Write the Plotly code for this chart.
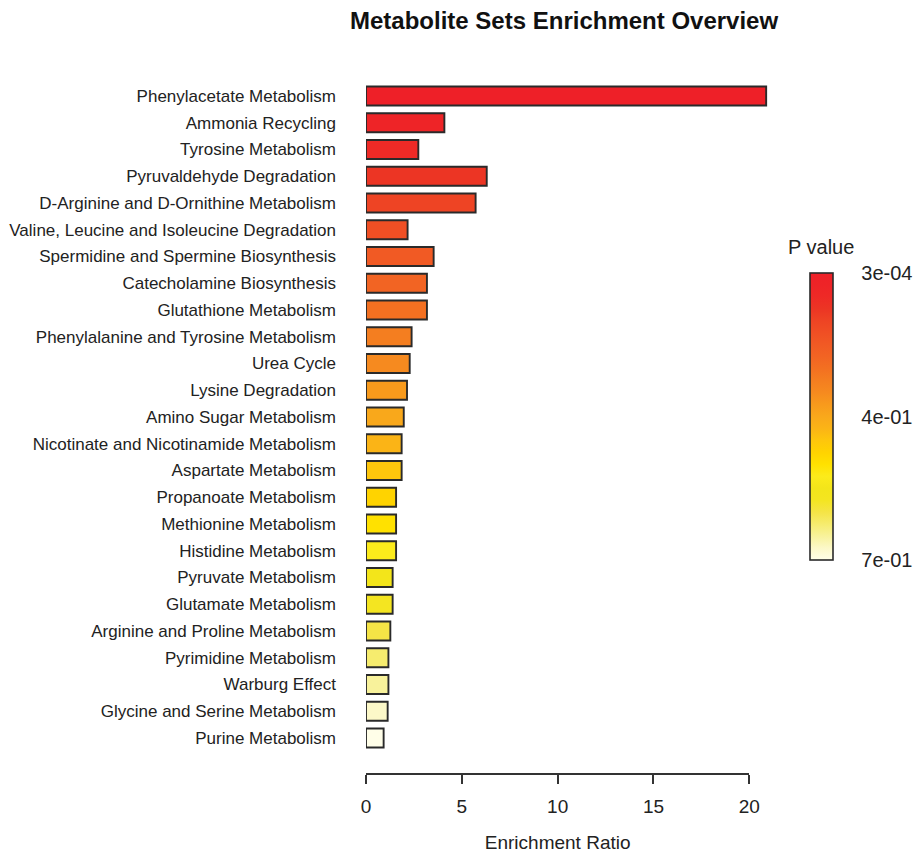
import plotly.graph_objects as go

# Metabolite sets, ordered from most to least significant
metabolite_sets = [
    "Phenylacetate Metabolism",
    "Ammonia Recycling",
    "Tyrosine Metabolism",
    "Pyruvaldehyde Degradation",
    "D-Arginine and D-Ornithine Metabolism",
    "Valine, Leucine and Isoleucine Degradation",
    "Spermidine and Spermine Biosynthesis",
    "Catecholamine Biosynthesis",
    "Glutathione Metabolism",
    "Phenylalanine and Tyrosine Metabolism",
    "Urea Cycle",
    "Lysine Degradation",
    "Amino Sugar Metabolism",
    "Nicotinate and Nicotinamide Metabolism",
    "Aspartate Metabolism",
    "Propanoate Metabolism",
    "Methionine Metabolism",
    "Histidine Metabolism",
    "Pyruvate Metabolism",
    "Glutamate Metabolism",
    "Arginine and Proline Metabolism",
    "Pyrimidine Metabolism",
    "Warburg Effect",
    "Glycine and Serine Metabolism",
    "Purine Metabolism",
]

enrichment_ratio = [
    20.88, 4.09, 2.73, 6.30, 5.72, 2.17, 3.53, 3.18, 3.18, 2.38,
    2.28, 2.14, 1.97, 1.86, 1.86, 1.57, 1.57, 1.57, 1.39, 1.39,
    1.27, 1.17, 1.17, 1.13, 0.92,
]

# Significance rank (1 = smallest p value) used for the colour scale
p_rank = list(range(1, len(metabolite_sets) + 1))

# P value legend labels (smallest, median, largest)
p_legend_text = ["3e-04", "4e-01", "7e-01"]

# Palette from least significant (cream) to most significant (red)
palette = [
    "#FFFEE8", "#FCF8C8", "#F8F29B", "#F6EC6E", "#F5E446", "#F4E521",
    "#F3E51A", "#FCEB1B", "#FFE100", "#FFD300", "#FEC60C", "#FBB416",
    "#F9A81B", "#F89A1C", "#F68A1F", "#F47E20", "#F37021", "#F26423",
    "#F15A24", "#F04F24", "#EE4424", "#EC3524", "#EE2A26", "#EE2427",
    "#EE2028",
]
n = len(palette)
colorscale = [[i / (n - 1), c] for i, c in enumerate(palette)]

n_sets = len(metabolite_sets)
color_level = [n_sets - r for r in p_rank]  # rank 1 -> highest level (red)

W, H = 918, 853
FONT = "Liberation Sans, Arial, sans-serif"

fig = go.Figure()

fig.add_trace(go.Bar(
    x=enrichment_ratio,
    y=metabolite_sets,
    orientation="h",
    width=0.71,
    marker=dict(
        color=color_level,
        colorscale=colorscale,
        cmin=0,
        cmax=n_sets - 1,
        line=dict(color="#2a2a2a", width=1.9),
        showscale=True,
        colorbar=dict(
            xref="container", yref="container",
            x=810 / W, xanchor="left",
            y=(H - 560) / H, yanchor="bottom",
            lenmode="pixels", len=287,
            thicknessmode="pixels", thickness=23,
            outlinecolor="#2a2a2a", outlinewidth=1.6,
            tickmode="array",
            tickvals=[n_sets - 1, (n_sets - 1) / 2, 0],
            ticktext=p_legend_text,
            ticks="outside", ticklen=24, tickcolor="rgba(0,0,0,0)",
            tickfont=dict(family=FONT, size=20, color="#222222"),
            bgcolor="rgba(0,0,0,0)",
            xpad=0, ypad=0,
        ),
    ),
    hoverinfo="x+y",
))

# Companion axis spanning 0-20 for the R-style bottom axis
fig.add_trace(go.Scatter(x=[], y=[], xaxis="x2", yaxis="y",
                         mode="markers", showlegend=False, hoverinfo="skip"))

x_left = 366
px_per_unit = (749.3 - 366) / 20
x_max = 21.6
y_top = 96 - 26.75 / 2
y_bot = 738 + 26.75 / 2

fig.update_layout(
    width=W, height=H,
    margin=dict(l=0, r=0, t=0, b=0, autoexpand=False),
    paper_bgcolor="white",
    plot_bgcolor="rgba(0,0,0,0)",
    showlegend=False,
    font=dict(family=FONT, color="#222222"),
    xaxis=dict(
        domain=[x_left / W, (x_left + x_max * px_per_unit) / W],
        range=[0, x_max],
        showline=False, showgrid=False, zeroline=False,
        showticklabels=False, ticks="",
    ),
    xaxis2=dict(
        domain=[x_left / W, 749.3 / W],
        range=[0, 20],
        anchor="free",
        position=(H - 774) / H,
        side="bottom",
        showline=True, linecolor="#333333", linewidth=1.5,
        showgrid=False, zeroline=False,
        ticks="outside", ticklen=9, tickwidth=1.5, tickcolor="#333333",
        tickmode="array", tickvals=[0, 5, 10, 15, 20],
        ticklabelstandoff=6,
        tickfont=dict(family=FONT, size=19, color="#222222"),
        title=dict(text="Enrichment Ratio",
                   font=dict(family=FONT, size=19, color="#222222"),
                   standoff=22),
    ),
    yaxis=dict(
        domain=[1 - y_bot / H, 1 - y_top / H],
        type="category",
        categoryorder="array",
        categoryarray=metabolite_sets,
        range=[n_sets - 0.5, -0.5],
        showline=False, showgrid=False, zeroline=False,
        ticks="",
        ticklabelstandoff=29,
        tickfont=dict(family=FONT, size=17, color="#222222"),
    ),
    annotations=[
        dict(text="<b>Metabolite Sets Enrichment Overview</b>",
             xref="paper", yref="paper",
             x=564 / W, y=1 - 20 / H, xanchor="center", yanchor="middle",
             showarrow=False,
             font=dict(family=FONT, size=24, color="#111111")),
        dict(text="P value",
             xref="paper", yref="paper",
             x=821 / W, y=1 - 247 / H, xanchor="center", yanchor="middle",
             showarrow=False,
             font=dict(family=FONT, size=20, color="#222222")),
    ],
)

fig.write_html("out.html")
